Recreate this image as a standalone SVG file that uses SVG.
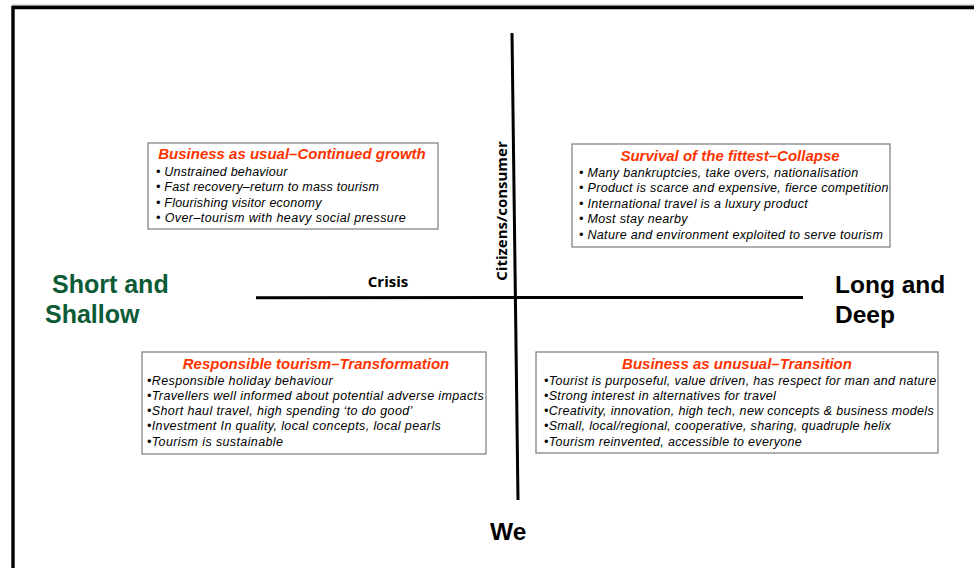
<svg xmlns="http://www.w3.org/2000/svg" width="974" height="568" viewBox="0 0 974 568">
<style>
.box{fill:#fff;stroke:#7a7a7a;stroke-width:1.2}
.ttl{font-family:"Liberation Sans",Arial,sans-serif;font-weight:bold;font-style:italic;font-size:15px;fill:#ff3300;text-anchor:middle}
.itm{font-family:"Liberation Sans",Arial,sans-serif;font-style:italic;font-size:12.5px;fill:#000;letter-spacing:0.22px}
.itm2{letter-spacing:0.32px}
.itm3{letter-spacing:0.38px}
.itm4{letter-spacing:0.42px}
.big{font-family:"Liberation Sans",Arial,sans-serif;font-weight:bold;font-size:24.5px;fill:#000}
.grn{fill:#0d5b36;font-size:25px}
.ax{font-family:"Open Sans","DejaVu Sans",sans-serif;font-weight:bold;font-size:15px;fill:#000;text-anchor:middle}
.line{stroke:#000;stroke-width:3;fill:none}
</style>
<defs>
<clipPath id="c1"><rect x="148" y="143" width="290" height="86"/></clipPath>
<clipPath id="c2"><rect x="572" y="144" width="318" height="103"/></clipPath>
<clipPath id="c3"><rect x="142" y="352" width="344" height="102"/></clipPath>
<clipPath id="c4"><rect x="536" y="352" width="402" height="101"/></clipPath>
</defs>
<rect width="974" height="568" fill="#fff"/>
<g id="frame">
<line x1="12" y1="5.2" x2="974" y2="5.2" stroke="#9a9a9a" stroke-width="1"/>
<path d="M13,568 V7.5 H974" stroke="#000" stroke-width="3.4" fill="none"/>
</g>
<g id="connectors">
<line class="line" x1="256" y1="297.7" x2="803" y2="297.5"/>
<line class="line" x1="512" y1="33" x2="518" y2="500"/>
</g>
<g id="q-business-as-usual">
<rect class="box" x="148" y="143" width="290" height="86"/>
<g clip-path="url(#c1)">
<text class="ttl" x="292" y="158.5">Business as usual–Continued growth</text>
<text class="itm" x="156" y="176">• Unstrained behaviour</text>
<text class="itm" x="156" y="191.3">• Fast recovery–return to mass tourism</text>
<text class="itm" x="156" y="206.6">• Flourishing visitor economy</text>
<text class="itm itm4" x="156" y="222">• Over–tourism with heavy social pressure</text>
</g>
</g>
<g id="q-survival">
<rect class="box" x="572" y="144" width="318" height="103"/>
<g clip-path="url(#c2)">
<text class="ttl" x="730" y="160.5">Survival of the fittest–Collapse</text>
<text class="itm itm2" x="579" y="177">• Many bankruptcies, take overs, nationalisation</text>
<text class="itm itm2" x="579" y="192.4">• Product is scarce and expensive, fierce competition</text>
<text class="itm itm2" x="579" y="207.8">• International travel is a luxury product</text>
<text class="itm itm2" x="579" y="223.2">• Most stay nearby</text>
<text class="itm itm2" x="579" y="238.6">• Nature and environment exploited to serve tourism</text>
</g>
</g>
<g id="q-responsible">
<rect class="box" x="142" y="352" width="344" height="102"/>
<g clip-path="url(#c3)">
<text class="ttl" x="316" y="369">Responsible tourism–Transformation</text>
<text class="itm itm3" x="147" y="384.5">•Responsible holiday behaviour</text>
<text class="itm itm3" x="147" y="399.8">•Travellers well informed about potential adverse impacts</text>
<text class="itm itm3" x="147" y="415.1">•Short haul travel, high spending ‘to do good’</text>
<text class="itm itm3" x="147" y="430.4">•Investment In quality, local concepts, local pearls</text>
<text class="itm itm3" x="147" y="445.7">•Tourism is sustainable</text>
</g>
</g>
<g id="q-business-as-unusual">
<rect class="box" x="536" y="352" width="402" height="101"/>
<g clip-path="url(#c4)">
<text class="ttl" x="737" y="369">Business as unusual–Transition</text>
<text class="itm itm2" x="544" y="384.5">•Tourist is purposeful, value driven, has respect for man and nature</text>
<text class="itm itm2" x="544" y="399.8">•Strong interest in alternatives for travel</text>
<text class="itm itm2" x="544" y="415.1">•Creativity, innovation, high tech, new concepts &amp; business models</text>
<text class="itm itm2" x="544" y="430.4">•Small, local/regional, cooperative, sharing, quadruple helix</text>
<text class="itm itm2" x="544" y="445.7">•Tourism reinvented, accessible to everyone</text>
</g>
</g>
<g id="label-short">
<text class="big grn" x="52" y="293">Short and</text>
<text class="big grn" x="45" y="323">Shallow</text>
</g>
<g id="label-long">
<text class="big" x="835" y="293">Long and</text>
<text class="big" x="835" y="323">Deep</text>
</g>
<g id="label-we">
<text class="big" x="490" y="540">We</text>
</g>
<g id="label-crisis">
<text class="ax" x="388" y="287">Crisis</text>
</g>
<g id="label-citizens">
<text class="ax" x="507" y="211" transform="rotate(-90 507 211)">Citizens/consumer</text>
</g>
</svg>
